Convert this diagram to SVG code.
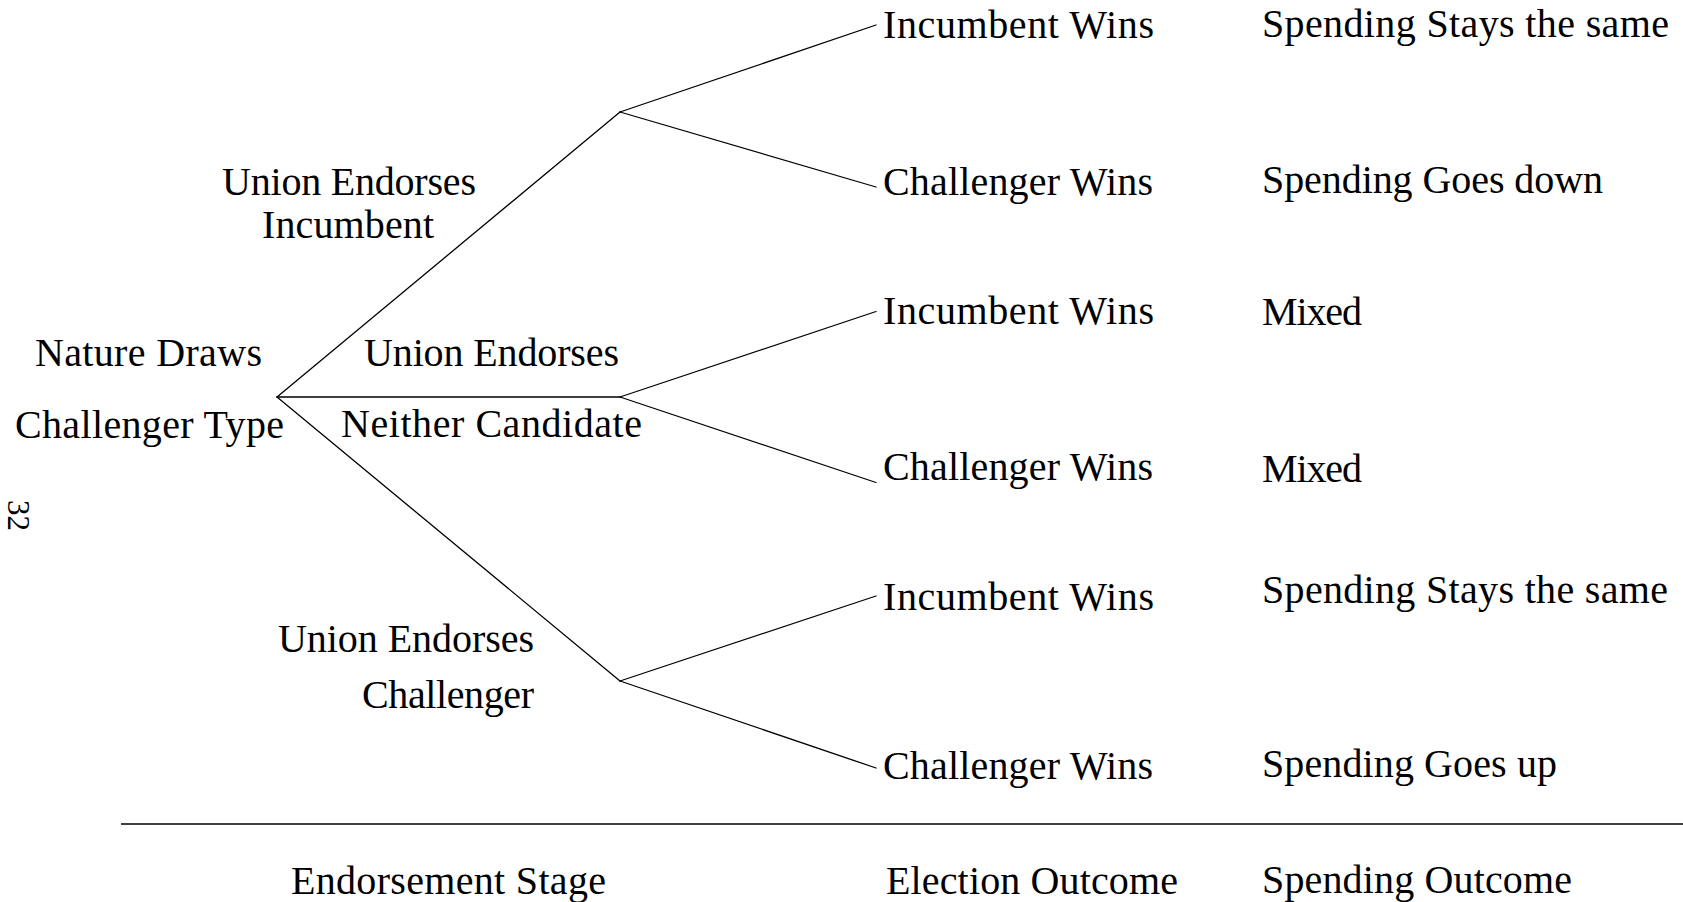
<svg xmlns="http://www.w3.org/2000/svg" width="1683" height="902" viewBox="0 0 1683 902">
<style>
text{font-family:"Liberation Serif","Times New Roman",serif;font-size:40px;fill:#000}
.e{stroke:#000;stroke-width:1.3;fill:none;stroke-linecap:round}
</style>
<rect width="1683" height="902" fill="#fff"/>
<g id="connectors">
<line class="e" x1="277" y1="397" x2="620" y2="112"/>
<line class="e" x1="277" y1="397" x2="620" y2="397"/>
<line class="e" x1="277" y1="397" x2="620" y2="681"/>
<line class="e" x1="620" y1="112" x2="876" y2="25"/>
<line class="e" x1="620" y1="112" x2="876" y2="187"/>
<line class="e" x1="620" y1="397" x2="876" y2="311.5"/>
<line class="e" x1="620" y1="397" x2="876" y2="482.5"/>
<line class="e" x1="620" y1="681" x2="876" y2="596"/>
<line class="e" x1="620" y1="681" x2="876" y2="768"/>
</g>
<g id="root">
<text x="35" y="366" textLength="227">Nature Draws</text>
<text x="15" y="438" textLength="269">Challenger Type</text>
</g>
<g id="endorse-incumbent">
<text x="222" y="195" textLength="254">Union Endorses</text>
<text x="262" y="238" textLength="172">Incumbent</text>
</g>
<g id="endorse-neither">
<text x="364" y="366" textLength="255">Union Endorses</text>
<text x="341" y="437" textLength="301">Neither Candidate</text>
</g>
<g id="endorse-challenger">
<text x="278" y="652" textLength="256">Union Endorses</text>
<text x="362" y="708" textLength="172">Challenger</text>
</g>
<g id="leaf1"><text x="883" y="38" textLength="271">Incumbent Wins</text><text x="1262" y="37" textLength="407">Spending Stays the same</text></g>
<g id="leaf2"><text x="883" y="195" textLength="270">Challenger Wins</text><text x="1262" y="193" textLength="341">Spending Goes down</text></g>
<g id="leaf3"><text x="883" y="324" textLength="271">Incumbent Wins</text><text x="1262" y="325" textLength="100">Mixed</text></g>
<g id="leaf4"><text x="883" y="480" textLength="270">Challenger Wins</text><text x="1262" y="482" textLength="100">Mixed</text></g>
<g id="leaf5"><text x="883" y="610" textLength="271">Incumbent Wins</text><text x="1262" y="603" textLength="406">Spending Stays the same</text></g>
<g id="leaf6"><text x="883" y="779" textLength="270">Challenger Wins</text><text x="1262" y="777" textLength="295">Spending Goes up</text></g>
<g id="footer">
<line x1="121" y1="824" x2="1683" y2="824" stroke="#000" stroke-width="1.5"/>
<text x="291" y="894" textLength="315">Endorsement Stage</text>
<text x="886" y="894" textLength="292">Election Outcome</text>
<text x="1262" y="893" textLength="310">Spending Outcome</text>
</g>
<g id="page-number">
<text transform="translate(8,500) rotate(90)" style="font-size:31px">32</text>
</g>
</svg>
